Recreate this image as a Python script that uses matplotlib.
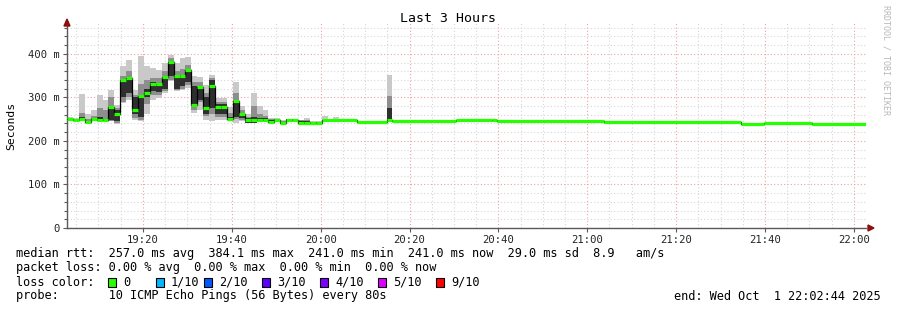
import matplotlib
matplotlib.use("Agg")
import matplotlib.pyplot as plt
from matplotlib.patches import Rectangle, Polygon

# ---- data (ms) ----
step_sec = 80
noisy_start = "19:02:55"
med = [251, 248, 250, 243, 250, 249, 248, 277, 262, 339, 345, 270, 304, 310, 331,
       331, 347, 381, 350, 350, 362, 282, 324, 275, 327, 278, 278, 251, 291, 261,
       249, 248, 249, 249, 244, 249, 241, 249, 249, 242, 242, 242, 242]
smin = [247, 245, 246, 240, 247, 246, 246, 246, 238, 287, 295, 248, 245, 262, 295,
        298, 310, 338, 315, 318, 322, 264, 272, 249, 245, 249, 249, 246, 241, 245,
        240, 240, 245, 245, 241, 246, 239, 246, 246, 240, 240, 240, 240]
smax = [255, 252, 308, 262, 272, 306, 295, 316, 283, 372, 385, 316, 395, 371, 368,
        362, 380, 397, 380, 390, 392, 350, 346, 329, 352, 299, 299, 278, 336, 280,
        262, 310, 280, 272, 253, 252, 248, 251, 251, 249, 253, 245, 245]
mlo = [248, 245, 247, 240, 247, 247, 246, 246, 240, 290, 300, 252, 248, 285, 305,
       305, 315, 340, 318, 320, 328, 270, 290, 258, 262, 255, 255, 247, 250, 248,
       241, 241, 246, 246, 242, 247, 240, 247, 247, 241, 241, 241, 241]
mhi = [253, 250, 265, 250, 258, 276, 272, 300, 276, 350, 360, 305, 330, 340, 345,
       345, 360, 390, 360, 365, 375, 335, 335, 310, 345, 290, 290, 265, 310, 270,
       255, 280, 262, 258, 250, 251, 246, 251, 251, 247, 249, 244, 244]
dlo = [249, 246, 248, 241, 248, 248, 247, 248, 245, 300, 310, 262, 255, 300, 315,
       312, 320, 350, 320, 325, 335, 282, 295, 262, 276, 262, 262, 248, 255, 252,
       242, 241, 246, 246, 242, 247, 240, 247, 247, 241, 241, 241, 241]
dhi = [252, 249, 255, 246, 252, 255, 251, 277, 272, 339, 345, 300, 304, 320, 335,
       331, 347, 381, 350, 352, 362, 325, 324, 300, 340, 285, 285, 255, 291, 262,
       252, 255, 252, 252, 247, 251, 244, 251, 251, 245, 245, 244, 244]

# quiet part: median segments
seg_start = ["20:00:15", "20:08:05", "20:14:50", "20:16:10", "20:30:34", "20:38:39",
             "20:39:47", "21:03:49", "21:34:36", "21:39:47", "21:50:34"]
seg_end = "22:02:44"
seg_med = [247, 244.5, 247, 245, 248, 247, 245, 244, 239, 242, 239]

# quiet part: occasional smoke (one 80 s step each)
puff_t = ["20:00:15", "20:02:42", "20:11:41", "20:14:50", "20:17:18", "20:49:13"]
puff_min = [246, 246, 241, 245, 245, 245]
puff_max = [257, 255, 245, 352, 249, 249]
puff_mlo = [246, 246, 241, 245, 245, 245]
puff_mhi = [249, 248, 245, 302, 247, 247]
puff_dlo = [246, 246, 241, 245, 245, 245]
puff_dhi = [247, 247, 244, 276, 246, 246]

loss_labels = ["0", "1/10", "2/10", "3/10", "4/10", "5/10", "9/10"]
loss_colors = ["#26ff00", "#00b8ff", "#0059ff", "#5e00ff", "#7e00ff", "#dd00ff", "#ff0000"]


def to_min(s):
    h, m, sec = [int(v) for v in s.split(":")]
    return (h - 19) * 60 + m + sec / 60.0


W, H = 897, 310
fig = plt.figure(figsize=(W / 100, H / 100), dpi=100)
ax = fig.add_axes([67 / W, (H - 228) / H, (866 - 67) / W, (228 - 22) / H])

step = step_sec / 60.0
t0 = to_min(noisy_start)
xs = [t0 + i * step for i in range(len(med))]

light, mid, dark = "#c9c9c9", "#8e8e8e", "#2f2f2f"
for lo, hi, c in [(smin, smax, light), (mlo, mhi, mid), (dlo, dhi, dark)]:
    ax.bar(xs, [b - a for a, b in zip(lo, hi)], width=step, bottom=lo,
           align="edge", color=c, linewidth=0, zorder=2)
px = [to_min(t) for t in puff_t]
for lo, hi, c in [(puff_min, puff_max, light), (puff_mlo, puff_mhi, mid), (puff_dlo, puff_dhi, dark)]:
    ax.bar(px, [b - a for a, b in zip(lo, hi)], width=step, bottom=lo,
           align="edge", color=c, linewidth=0, zorder=2)

# median line
sx = [to_min(t) for t in seg_start]
sx_end = sx[1:] + [to_min(seg_end)]
all_x = xs + sx
all_end = [x + step for x in xs] + sx_end
all_v = med + seg_med
ax.step(all_x + [all_end[-1]], all_v + [all_v[-1]], where="post",
        color="black", lw=0.9, zorder=3)
ax.hlines(all_v, all_x, all_end, color=loss_colors[0], lw=2.3, zorder=4)

# axes, grid
xmin, xmax = to_min("19:02:55"), to_min("22:02:44")
ax.set_xlim(xmin, xmax)
ax.set_ylim(0, 473)
ax.set_xticks(range(20, 181, 20))
ax.set_xticklabels(["19:20", "19:40", "20:00", "20:20", "20:40", "21:00", "21:20", "21:40", "22:00"])
ax.set_xticks(range(5, 183, 5), minor=True)
ax.set_yticks([0, 100, 200, 300, 400])
ax.set_yticklabels(["0", "100 m", "200 m", "300 m", "400 m"])
ax.set_yticks(range(20, 461, 20), minor=True)
ax.grid(which="minor", color="#d6d6d6", linestyle=(0, (1, 2)), lw=0.8, zorder=0)
ax.grid(which="major", color="#f2a0a0", linestyle=(0, (1, 2)), lw=0.8, zorder=1)
ax.set_axisbelow(True)
for s in ["top", "right"]:
    ax.spines[s].set_visible(False)
for s in ["left", "bottom"]:
    ax.spines[s].set_color("#5a5a5a")
    ax.spines[s].set_linewidth(1.0)
mono = "DejaVu Sans Mono"
ax.tick_params(which="both", colors="#5a5a5a", labelcolor="#222222", labelsize=7.6,
               direction="out", width=0.8)
ax.tick_params(which="major", length=3, pad=2)
ax.tick_params(which="minor", length=2)
ax.tick_params(axis="x", which="minor", length=0)
for lab in ax.get_xticklabels() + ax.get_yticklabels():
    lab.set_family(mono)

# arrows
fig.patches.append(Polygon([[64 / W, 1 - 26 / H], [70 / W, 1 - 26 / H], [67 / W, 1 - 19 / H]],
                           closed=True, transform=fig.transFigure, color="#8b1010"))
fig.patches.append(Polygon([[868 / W, 1 - 225 / H], [868 / W, 1 - 231 / H], [874 / W, 1 - 228 / H]],
                           closed=True, transform=fig.transFigure, color="#8b1010"))

fig.text(448 / W, 1 - 19 / H, "Last 3 Hours", ha="center", va="center", family=mono, fontsize=9.5)
fig.text(11 / W, 1 - 126 / H, "Seconds", ha="center", va="center", rotation=90, family=mono, fontsize=8.2)
fig.text(886 / W, 1 - 5 / H, "RRDTOOL / TOBI OETIKER", ha="center", va="top", rotation=-90,
         family=mono, fontsize=6.0, color="#b8b8b8")

fs = 8.6
fig.text(16 / W, 1 - 254 / H,
         "median rtt:  257.0 ms avg  384.1 ms max  241.0 ms min  241.0 ms now  29.0 ms sd  8.9   am/s",
         family=mono, fontsize=fs, va="center")
fig.text(16 / W, 1 - 268 / H,
         "packet loss: 0.00 % avg  0.00 % max  0.00 % min  0.00 % now",
         family=mono, fontsize=fs, va="center")
fig.text(16 / W, 1 - 282 / H, "loss color:", family=mono, fontsize=fs, va="center")
box_x = [108, 156, 204, 262, 320, 378, 436]
for bx, lab, c in zip(box_x, loss_labels, loss_colors):
    fig.patches.append(Rectangle((bx / W, 1 - 286.5 / H), 8 / W, 9 / H, transform=fig.transFigure,
                                 facecolor=c, edgecolor="black", lw=0.8))
    fig.text((bx + 15) / W, 1 - 282 / H, lab, family=mono, fontsize=fs, va="center")
fig.text(16 / W, 1 - 296 / H, "probe:       10 ICMP Echo Pings (56 Bytes) every 80s",
         family=mono, fontsize=fs, va="center")
fig.text(881 / W, 1 - 296 / H, "end: Wed Oct  1 22:02:44 2025",
         family=mono, fontsize=fs, va="center", ha="right")

fig.savefig("out.png", dpi=100)
